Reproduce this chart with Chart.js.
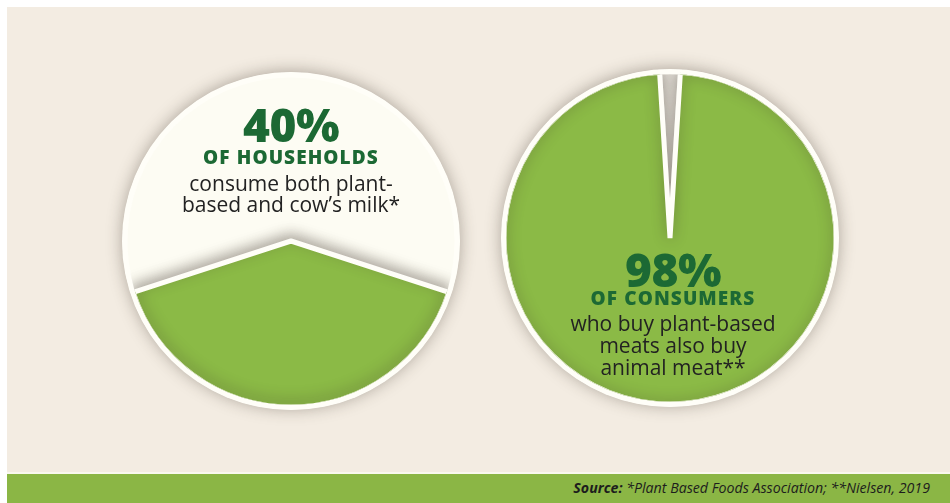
<!DOCTYPE html>
<html>
<head>
<meta charset="utf-8">
<script src="https://cdn.jsdelivr.net/npm/chart.js@4/dist/chart.umd.min.js"></script>
<style>
  html, body { margin: 0; padding: 0; }
  body { width: 950px; height: 503px; position: relative; overflow: hidden; background: #ffffff; font-family: "Open Sans", "Noto Sans", sans-serif; }
  #panel { position: absolute; left: 7px; top: 7px; right: 0; bottom: 0; background: #f3ece2; }
  #band { position: absolute; left: 7px; right: 0; top: 472px; height: 2px; background: #f9f8ee; }
  #footer { position: absolute; left: 7px; right: 0; top: 474px; bottom: 0; background: #8bb645; }
  canvas { position: absolute; }
  .t { position: absolute; white-space: nowrap; text-align: center; transform: translateX(-50%); }
  .big { font-size: 46px; line-height: 46px; font-weight: 800; color: #1c6934; letter-spacing: -0.5px; }
  .cap { font-size: 19px; line-height: 19px; font-weight: 800; color: #1c6934; letter-spacing: 1.1px; }
  .body { font-size: 21px; line-height: 21px; font-weight: 400; color: #222; }
  .src { position: absolute; right: 20px; top: 481px; font-size: 14.2px; line-height: 14px; font-style: italic; color: #1d1d1d; white-space: nowrap; }
  .src b { font-weight: 700; }
</style>
</head>
<body>
<div id="panel"></div>
<div id="band"></div>
<div id="footer"></div>
<canvas id="households" width="400" height="400" style="left:91px; top:41px;"></canvas>
<canvas id="consumers" width="400" height="400" style="left:470px; top:38px;"></canvas>

<div class="t big" style="left:291px; top:101px;">40%</div>
<div class="t cap" style="left:291px; top:148px;">OF HOUSEHOLDS</div>
<div class="t body" style="left:291px; top:173px;">consume both plant-</div>
<div class="t body" style="left:291px; top:194px;">based and cow’s milk*</div>

<div class="t big" style="left:673px; top:246px;">98%</div>
<div class="t cap" style="left:673px; top:289px;">OF CONSUMERS</div>
<div class="t body" style="left:673px; top:313px;">who buy plant-based</div>
<div class="t body" style="left:673px; top:335px;">meats also buy</div>
<div class="t body" style="left:673px; top:357px;">animal meat**</div>

<div class="src"><b>Source:</b> *Plant Based Foods Association; **Nielsen, 2019</div>

<script>
// Share of households buying both plant-based and cow's milk
const householdLabels = ['Both plant-based and cow’s milk', 'Other households'];
const householdValues = [40, 60];

// Share of plant-based meat buyers who also buy animal meat
const consumerLabels = ['Plant-based meat only', 'Also buy animal meat'];
const consumerValues = [2, 98];

const GREEN = '#8bba46';
const CREAM = '#fdfcf3';
const RIM = '#fffef8';
const GAP = '#e4e0d8';

// Soft drop shadow behind the disc plus a rim, and a shadow cast by the highlighted slice
function discPlugin(shadowIndex, shadowOffsetY) {
  return {
    id: 'disc',
    beforeDatasetsDraw(chart) {
      const arc = chart.getDatasetMeta(0).data[0];
      const ctx = chart.ctx;
      ctx.save();
      ctx.shadowColor = 'rgba(60,50,40,0.38)';
      ctx.shadowBlur = 16;
      ctx.shadowOffsetY = -1;
      ctx.beginPath();
      ctx.arc(arc.x, arc.y, arc.outerRadius + 3, 0, Math.PI * 2);
      ctx.fillStyle = RIM;
      ctx.fill();
      ctx.restore();
    },
    afterDatasetsDraw(chart) {
      const meta = chart.getDatasetMeta(0);
      const arc = meta.data[shadowIndex];
      const ctx = chart.ctx;
      ctx.save();
      ctx.beginPath();
      ctx.arc(arc.x, arc.y, arc.outerRadius - 2, 0, Math.PI * 2);
      ctx.clip();
      ctx.shadowColor = 'rgba(60,50,40,0.4)';
      ctx.shadowBlur = 14;
      ctx.shadowOffsetY = shadowOffsetY;
      arc.draw(ctx);
      ctx.restore();
    }
  };
}

function makePie(id, labels, values, colors, rotation, shadowIndex, shadowOffsetY) {
  return new Chart(document.getElementById(id), {
    type: 'pie',
    data: {
      labels: labels,
      datasets: [{
        data: values,
        backgroundColor: colors,
        borderColor: RIM,
        borderWidth: 5,
        hoverOffset: 0,
        radius: 166
      }]
    },
    options: {
      responsive: false,
      animation: false,
      rotation: rotation,
      layout: { padding: 0 },
      events: [],
      plugins: { legend: { display: false }, tooltip: { enabled: false } }
    },
    plugins: [discPlugin(shadowIndex, shadowOffsetY)]
  });
}

makePie('households', householdLabels, householdValues, [GREEN, CREAM], 108, 0, -4);
makePie('consumers', consumerLabels, consumerValues, [GAP, GREEN], -3.6, 1, 0);
</script>
</body>
</html>
